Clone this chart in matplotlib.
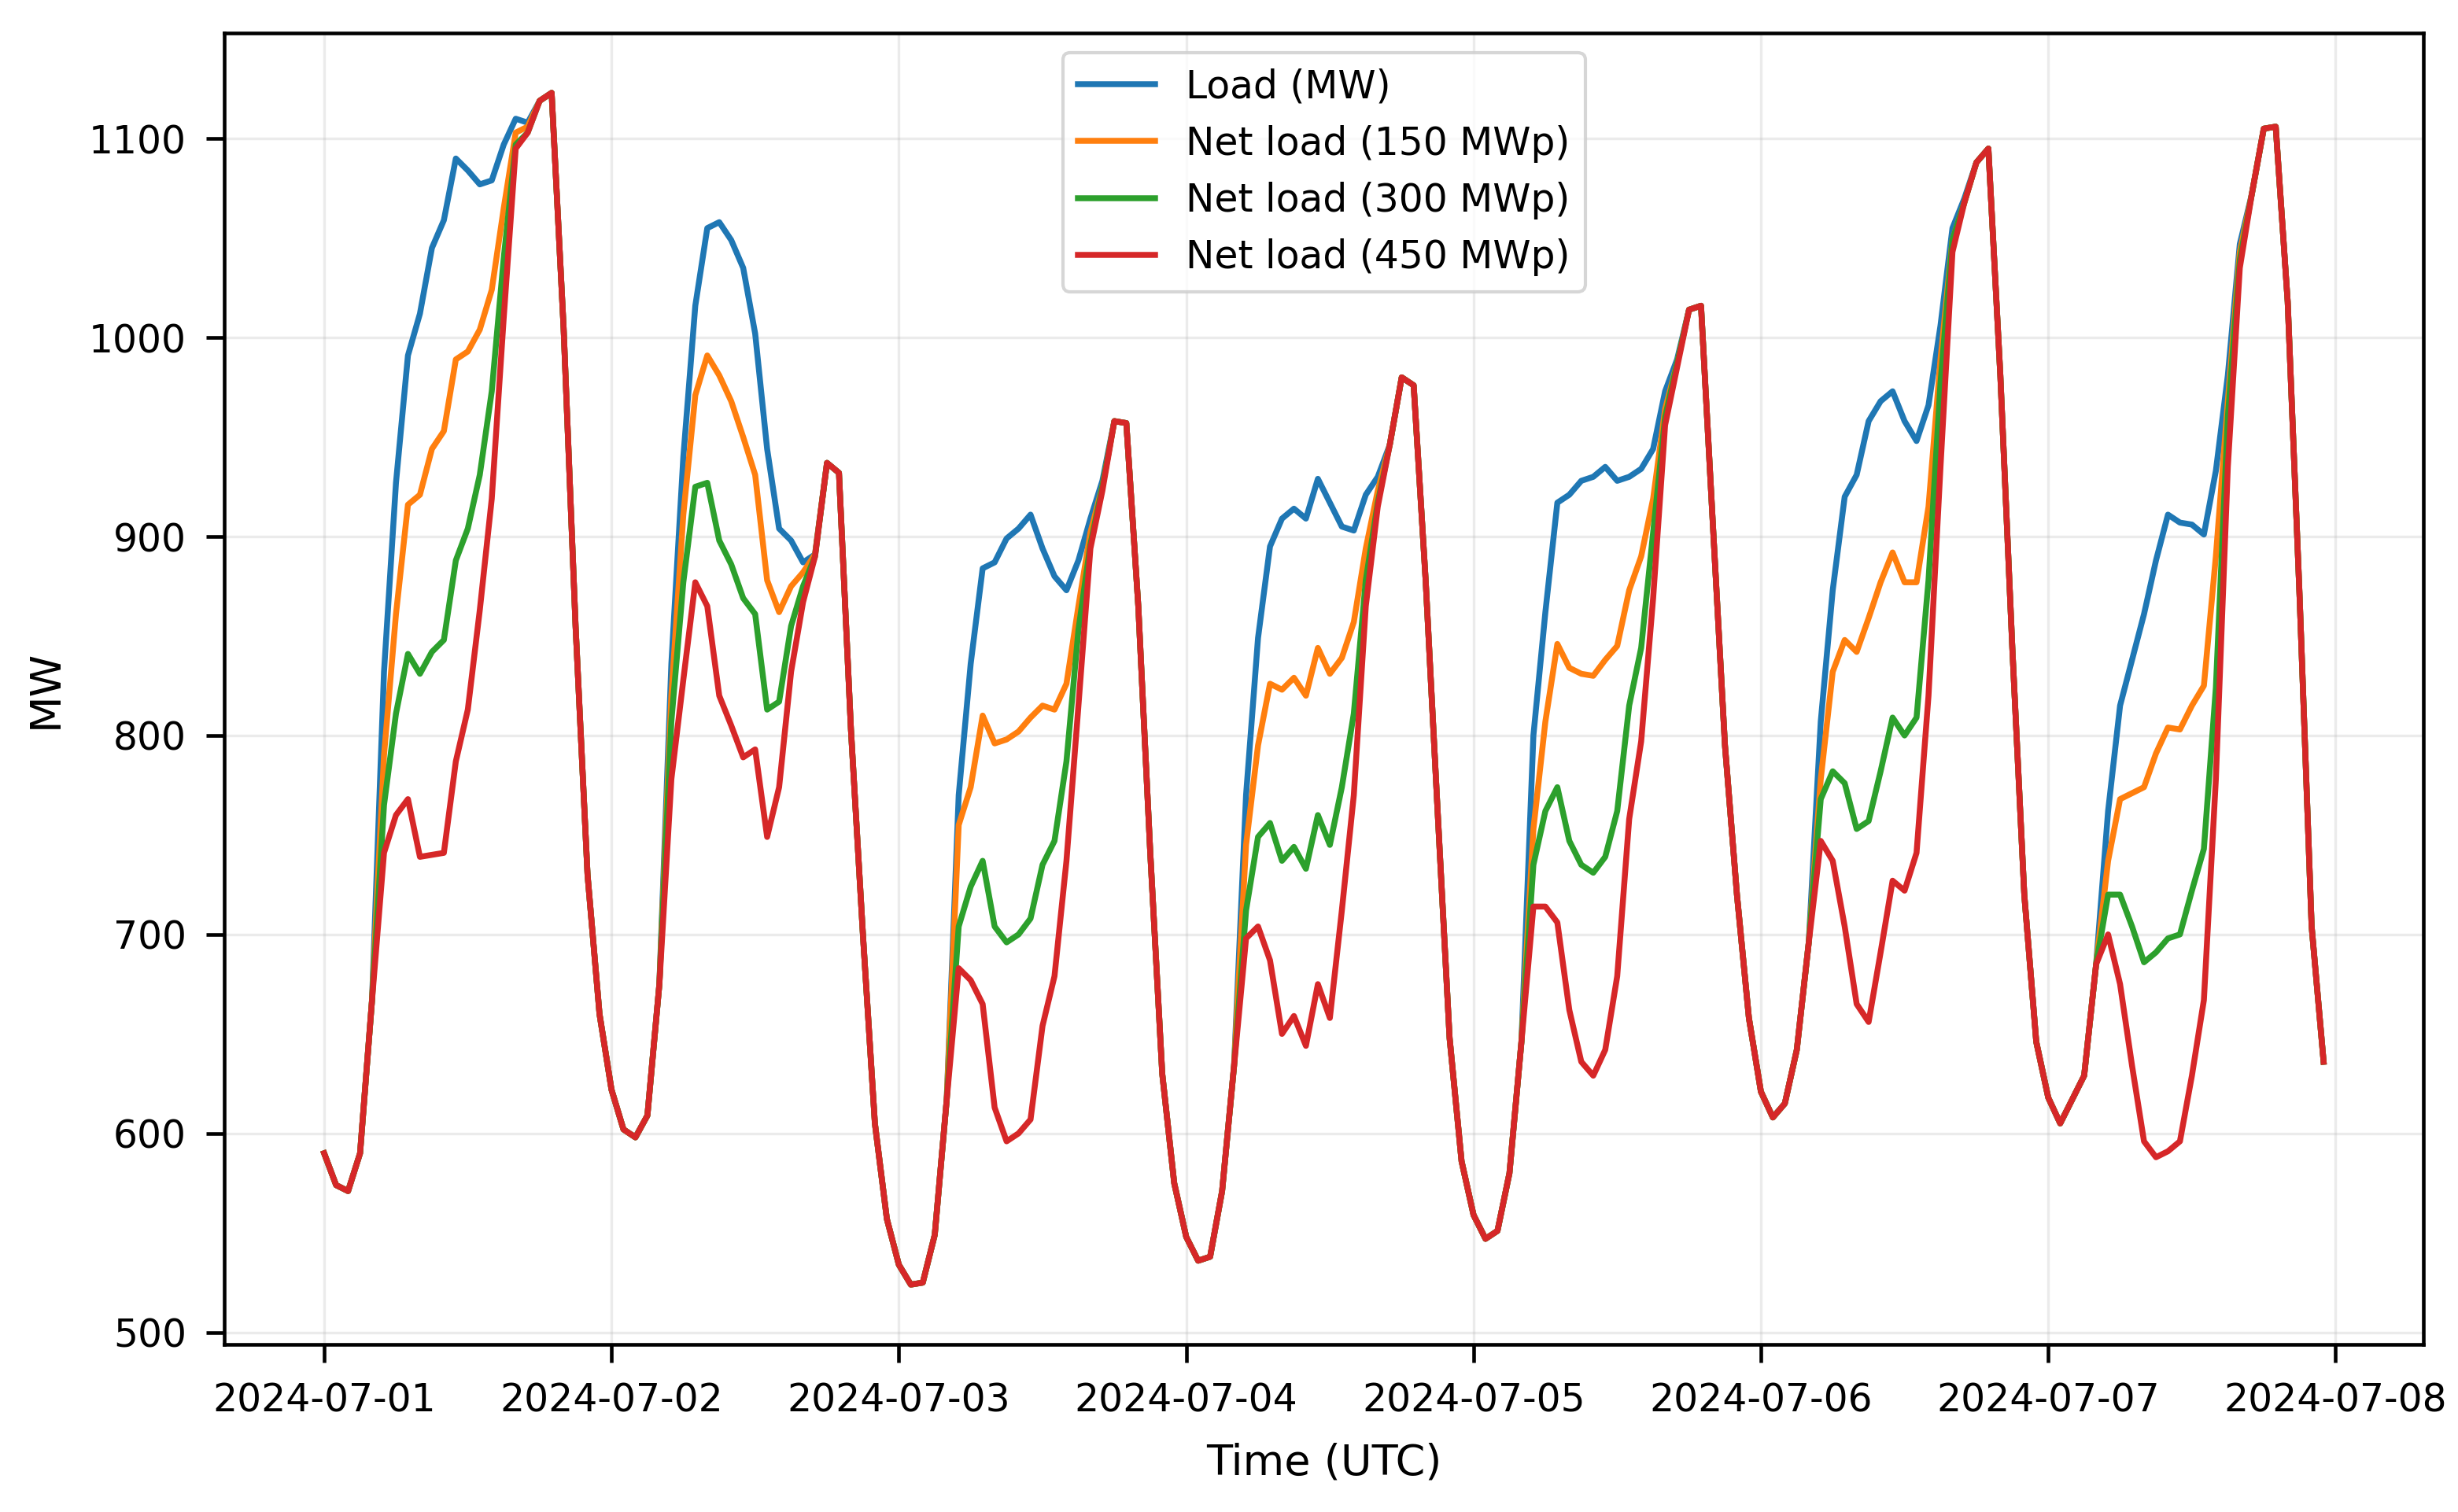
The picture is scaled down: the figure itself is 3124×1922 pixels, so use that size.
import pandas as pd
import matplotlib
matplotlib.use("Agg")
import matplotlib.pyplot as plt
import matplotlib.dates as mdates

# hourly values, one row per day (2024-07-01 .. 2024-07-07)
load_mw = [
    590, 574, 571, 590, 667, 832, 927, 991, 1012, 1045, 1059, 1090, 1084, 1077, 1079, 1097, 1110, 1108, 1119, 1123, 1005, 855, 730, 660,
    622, 602, 598, 609, 675, 836, 940, 1016, 1055, 1058, 1049, 1035, 1002, 944, 904, 898, 887, 891, 937, 932, 803, 700, 605, 557,
    534, 524, 525, 549, 617, 770, 836, 884, 887, 899, 904, 911, 894, 880, 873, 888, 909, 928, 958, 957, 865, 741, 630, 575,
    548, 536, 538, 571, 634, 770, 849, 895, 909, 914, 909, 929, 917, 905, 903, 921, 930, 946, 980, 976, 878, 762, 648, 586,
    559, 547, 551, 580, 646, 800, 862, 917, 921, 928, 930, 935, 928, 930, 934, 944, 973, 989, 1014, 1016, 905, 795, 720, 658,
    621, 608, 615, 642, 696, 807, 873, 920, 931, 958, 968, 973, 958, 948, 966, 1006, 1055, 1070, 1088, 1095, 981, 844, 720, 646,
    618, 605, 617, 629, 685, 762, 815, 838, 861, 888, 911, 907, 906, 901, 933, 981, 1047, 1072, 1105, 1106, 1018, 869, 704, 636,
]
net_150 = [
    590, 574, 571, 590, 667, 790, 861, 916, 921, 944, 953, 989, 993, 1004, 1024, 1065, 1103, 1106, 1119, 1123, 1005, 855, 730, 660,
    622, 602, 598, 609, 675, 820, 911, 971, 991, 981, 968, 950, 931, 878, 862, 875, 882, 891, 937, 932, 803, 700, 605, 557,
    534, 524, 525, 549, 617, 755, 774, 810, 796, 798, 802, 809, 815, 813, 826, 865, 902, 925, 958, 957, 865, 741, 630, 575,
    548, 536, 538, 571, 634, 745, 795, 826, 823, 829, 820, 844, 831, 839, 857, 894, 923, 946, 980, 976, 878, 762, 648, 586,
    559, 547, 551, 580, 646, 753, 807, 846, 834, 831, 830, 838, 845, 873, 890, 919, 964, 987, 1014, 1016, 905, 795, 720, 658,
    621, 608, 615, 642, 696, 778, 832, 848, 842, 859, 877, 892, 877, 877, 915, 989, 1049, 1068, 1088, 1095, 981, 844, 720, 646,
    618, 605, 617, 629, 685, 737, 768, 771, 774, 791, 804, 803, 815, 825, 890, 968, 1043, 1072, 1105, 1106, 1018, 869, 704, 636,
]
net_300 = [
    590, 574, 571, 590, 667, 765, 811, 841, 831, 842, 848, 888, 904, 931, 973, 1040, 1097, 1103, 1119, 1123, 1005, 855, 730, 660,
    622, 602, 598, 609, 675, 807, 877, 925, 927, 898, 886, 869, 861, 813, 817, 855, 875, 890, 937, 932, 803, 700, 605, 557,
    534, 524, 525, 549, 617, 704, 724, 737, 704, 696, 700, 708, 735, 747, 787, 853, 896, 925, 958, 957, 865, 741, 630, 575,
    548, 536, 538, 571, 634, 712, 749, 756, 737, 744, 733, 760, 745, 774, 811, 878, 917, 946, 980, 976, 878, 762, 648, 586,
    559, 547, 551, 580, 646, 735, 762, 774, 747, 735, 731, 739, 762, 815, 844, 902, 960, 987, 1014, 1016, 905, 795, 720, 658,
    621, 608, 615, 642, 696, 768, 782, 776, 753, 757, 782, 809, 800, 809, 878, 977, 1049, 1068, 1088, 1095, 981, 844, 720, 646,
    618, 605, 617, 629, 685, 720, 720, 704, 686, 691, 698, 700, 722, 743, 824, 960, 1039, 1072, 1105, 1106, 1018, 869, 704, 636,
]
net_450 = [
    590, 574, 571, 590, 667, 741, 760, 768, 739, 740, 741, 787, 813, 863, 919, 1010, 1095, 1103, 1119, 1123, 1005, 855, 730, 660,
    622, 602, 598, 609, 675, 778, 828, 877, 865, 820, 805, 789, 793, 749, 774, 832, 867, 890, 937, 932, 803, 700, 605, 557,
    534, 524, 525, 549, 617, 683, 677, 665, 613, 596, 600, 607, 654, 679, 737, 815, 894, 923, 958, 957, 865, 741, 630, 575,
    548, 536, 538, 571, 634, 698, 704, 687, 650, 659, 644, 675, 658, 712, 770, 865, 915, 946, 980, 976, 878, 762, 648, 586,
    559, 547, 551, 580, 646, 714, 714, 706, 662, 636, 629, 642, 679, 758, 797, 869, 956, 985, 1014, 1016, 905, 795, 720, 658,
    621, 608, 615, 642, 696, 747, 737, 704, 665, 656, 691, 727, 722, 741, 820, 935, 1043, 1068, 1088, 1095, 981, 844, 720, 646,
    618, 605, 617, 629, 685, 700, 675, 634, 596, 588, 591, 596, 629, 667, 778, 935, 1035, 1072, 1105, 1106, 1018, 869, 704, 636,
]
labels = ["Load (MW)", "Net load (150 MWp)", "Net load (300 MWp)", "Net load (450 MWp)"]

t = pd.date_range("2024-07-01 00:00", periods=len(load_mw), freq="h")

plt.rcParams["font.family"] = "DejaVu Sans"
fig = plt.figure(figsize=(3124 / 300, 1922 / 300), dpi=300)
ax = fig.add_axes([0.0912, 0.111, 0.8948, 0.867])

for serie, lab in zip([load_mw, net_150, net_300, net_450], labels):
    ax.plot(t, serie, lw=1.8, label=lab)

ax.xaxis.set_major_locator(mdates.DayLocator())
ax.xaxis.set_major_formatter(mdates.DateFormatter("%Y-%m-%d"))
ax.set_yticks([500, 600, 700, 800, 900, 1000, 1100])
ax.tick_params(labelsize=11.7, length=5.5, width=1.1, pad=6)
ax.grid(True, alpha=0.25)
for s in ax.spines.values():
    s.set_linewidth(1.1)

ax.set_xlabel("Time (UTC)", fontsize=13, labelpad=7)
ax.set_ylabel("MW", fontsize=13, labelpad=7)
ax.legend(loc="upper center", fontsize=11.7)

fig.savefig("out.png", dpi=300)
